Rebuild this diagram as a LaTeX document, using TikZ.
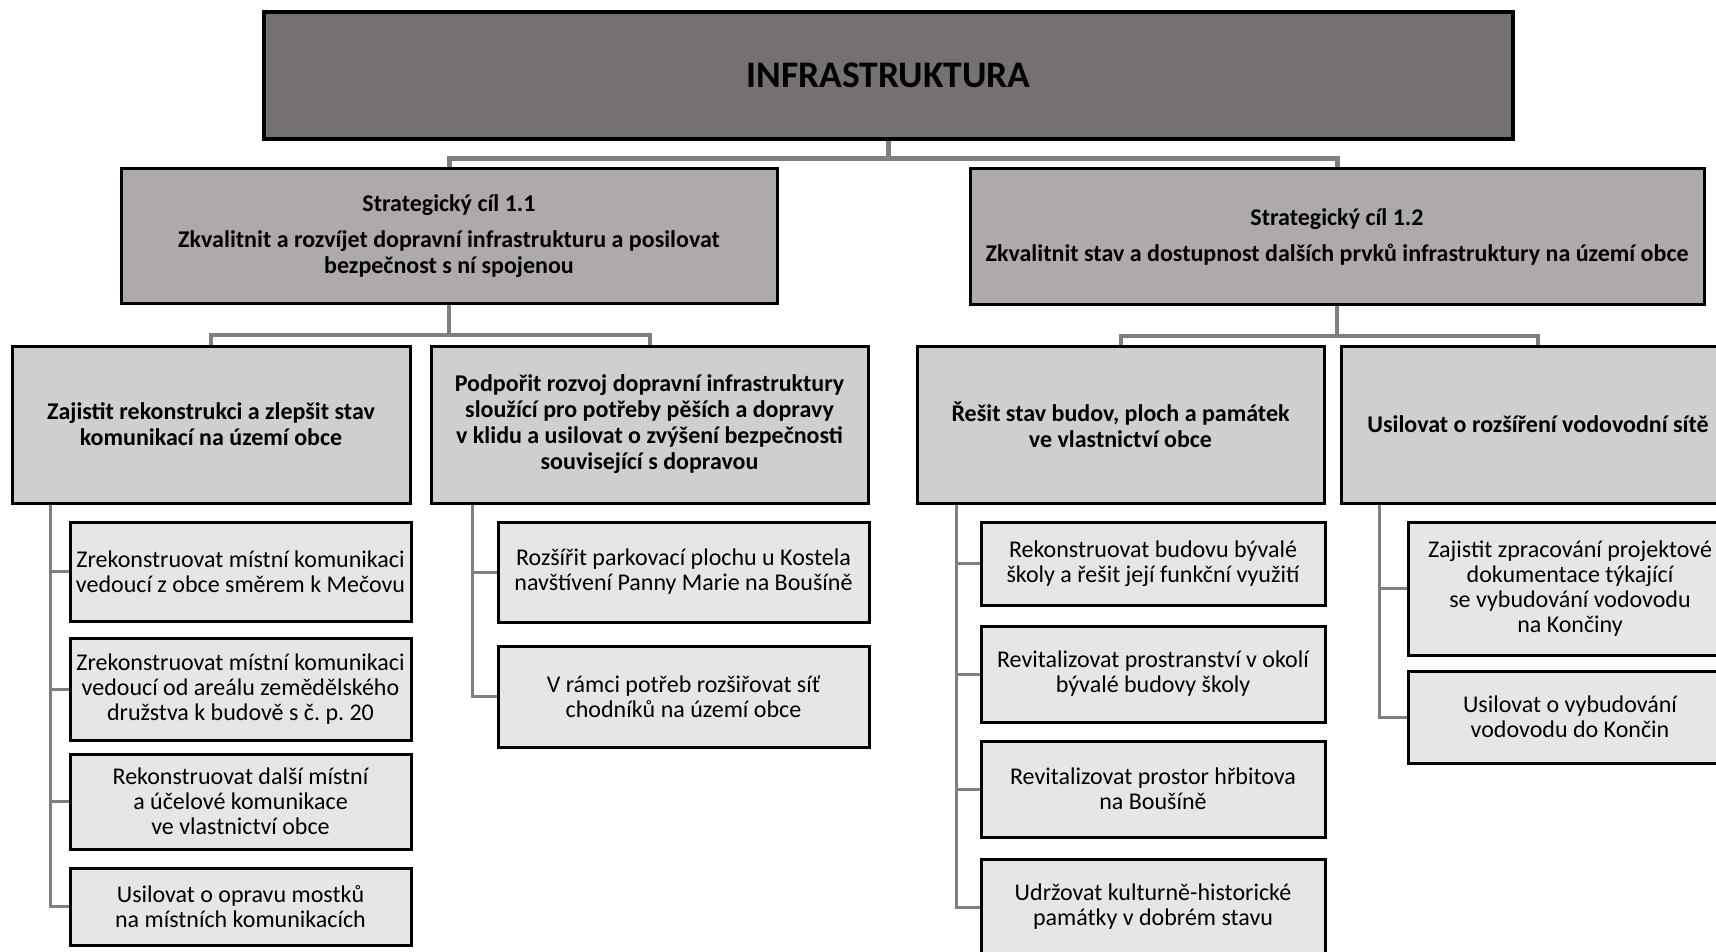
\documentclass[tikz,border=0pt]{standalone}
\usepackage{fontspec}
\setmainfont{Carlito}
\usetikzlibrary{backgrounds}
\definecolor{hlavnibarva}{HTML}{757171}
\definecolor{cilbarva}{HTML}{AEAAAA}
\definecolor{opatrenibarva}{HTML}{D0CECE}
\definecolor{aktivitabarva}{HTML}{E7E6E6}
\definecolor{spojnice}{HTML}{7F7F7F}
\tikzset{
  box/.style={draw=black, line width=3pt, align=center, inner sep=2pt, anchor=center},
  hlavni/.style={box, fill=hlavnibarva, line width=4pt, font=\fontsize{37.5}{40}\selectfont\bfseries},
  cil/.style={box, fill=cilbarva, font=\fontsize{24}{26}\selectfont\bfseries},
  opatreni/.style={box, fill=opatrenibarva, minimum height=157pt, font=\fontsize{24}{26}\selectfont\bfseries},
  aktivita/.style={box, fill=aktivitabarva, font=\fontsize{24}{25}\selectfont},
  spoj/.style={draw=spojnice, line width=5pt},
  vetev/.style={draw=spojnice, line width=3pt},
}

\begin{document}
\begin{tikzpicture}[x=1pt,y=-1pt]
	\useasboundingbox (0,0) rectangle (1716,952);
	% hlavni oblast
	\node[hlavni, minimum width=1249pt, minimum height=127pt] (infra) at (888.5,75.5) {INFRASTRUKTURA};
	% strategicke cile
	\node[cil, minimum width=656pt, minimum height=134pt] (cil1) at (449,236) {Strategický cíl 1.1\\[10pt] Zkvalitnit a rozvíjet dopravní infrastrukturu a posilovat\\ bezpečnost s ní spojenou};
	\node[cil, minimum width=734pt, minimum height=135pt] (cil2) at (1337,236.5) {Strategický cíl 1.2\\[10pt] Zkvalitnit stav a dostupnost dalších prvků infrastruktury na území obce};
	% opatreni
	\node[opatreni, minimum width=398pt] (zaj) at (211,424.5) {Zajistit rekonstrukci a zlepšit stav\\ komunikací na území obce};
	\node[opatreni, minimum width=437pt] (pod) at (649.5,424.5) {Podpořit rozvoj dopravní infrastruktury\\ sloužící pro potřeby pěších a dopravy\\ v klidu a usilovat o zvýšení bezpečnosti\\ související s dopravou};
	\node[opatreni, minimum width=407pt] (res) at (1120.5,424.5) {Řešit stav budov, ploch a památek\\ ve vlastnictví obce};
	\node[opatreni, minimum width=394pt] (usi) at (1538,424.5) {Usilovat o rozšíření vodovodní sítě};
	% aktivity
	\node[aktivita, minimum width=341pt, minimum height=99pt] (zaj1) at (240.5,571.5) {Zrekonstruovat místní komunikaci\\ vedoucí z obce směrem k Mečovu};
	\node[aktivita, minimum width=341pt, minimum height=102pt] (zaj2) at (240.5,689) {Zrekonstruovat místní komunikaci\\ vedoucí od areálu zemědělského\\ družstva k budově s č.\ p.\ 20};
	\node[aktivita, minimum width=341pt, minimum height=95pt] (zaj3) at (240.5,801.5) {Rekonstruovat další místní\\ a účelové komunikace\\ ve vlastnictví obce};
	\node[aktivita, minimum width=341pt, minimum height=77pt] (zaj4) at (240.5,906.5) {Usilovat o opravu mostků\\ na místních komunikacích};
	\node[aktivita, minimum width=371pt, minimum height=100pt] (pod1) at (683.5,572) {Rozšířit parkovací plochu u Kostela\\ navštívení Panny Marie na Boušíně};
	\node[aktivita, minimum width=371pt, minimum height=101pt] (pod2) at (683.5,696.5) {V rámci potřeb rozšiřovat síť\\ chodníků na území obce};
	\node[aktivita, minimum width=344pt, minimum height=83pt] (res1) at (1153,563.5) {Rekonstruovat budovu bývalé\\ školy a řešit její funkční využití};
	\node[aktivita, minimum width=344pt, minimum height=96pt] (res2) at (1153,674) {Revitalizovat prostranství v okolí\\ bývalé budovy školy};
	\node[aktivita, minimum width=344pt, minimum height=96pt] (res3) at (1153,789) {Revitalizovat prostor hřbitova\\ na Boušíně};
	\node[aktivita, minimum width=344pt, minimum height=96pt] (res4) at (1153,907) {Udržovat kulturně-historické\\ památky v dobrém stavu};
	\node[aktivita, minimum width=324pt, minimum height=133pt] (usi1) at (1570,588.5) {Zajistit zpracování projektové\\ dokumentace týkající\\ se vybudování vodovodu\\ na Končiny};
	\node[aktivita, minimum width=324pt, minimum height=92pt] (usi2) at (1570,717) {Usilovat o vybudování\\ vodovodu do Končin};
	% spojnice
	\begin{scope}[on background layer]
		\draw[spoj] (infra.south) -- ++(0,18) -| (cil1.north);
		\draw[spoj] (infra.south) -- ++(0,18) -| (cil2.north);
		\draw[spoj, line width=4pt] (cil1.south) -- ++(0,30) -| (zaj.north);
		\draw[spoj, line width=4pt] (cil1.south) -- ++(0,30) -| (pod.north);
		\draw[spoj, line width=4pt] (cil2.south) -- ++(0,30) -| (res.north);
		\draw[spoj, line width=4pt] (cil2.south) -- ++(0,30) -| (usi.north);
		\foreach \i in {1,...,4} {
			\draw[vetev] ([xshift=40pt]zaj.south west) |- (zaj\i.west);
			\draw[vetev] ([xshift=41pt]res.south west) |- (res\i.west);
		}
		\foreach \i in {1,2} {
			\draw[vetev] ([xshift=43pt]pod.south west) |- (pod\i.west);
			\draw[vetev] ([xshift=40pt]usi.south west) |- (usi\i.west);
		}
	\end{scope}
\end{tikzpicture}
\end{document}
